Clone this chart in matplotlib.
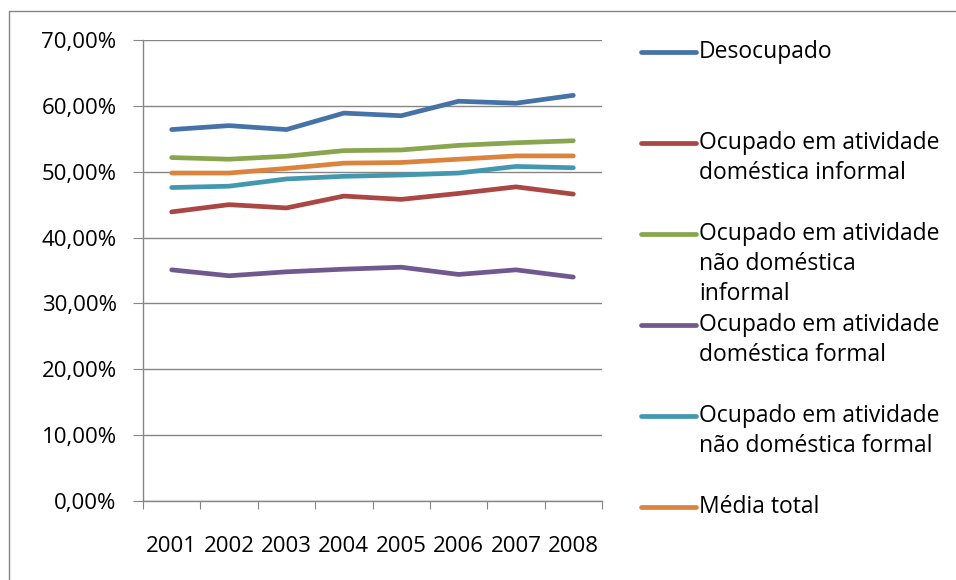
import matplotlib
matplotlib.use("Agg")
import matplotlib.pyplot as plt
from matplotlib.lines import Line2D
from matplotlib.ticker import FuncFormatter, MultipleLocator

plt.rcParams['font.family'] = ['Open Sans', 'DejaVu Sans']

# data (percent)
years = ['2001', '2002', '2003', '2004', '2005', '2006', '2007', '2008']
desocupado = [56.4, 57.0, 56.4, 58.9, 58.5, 60.7, 60.4, 61.6]
dom_informal = [43.9, 45.0, 44.5, 46.3, 45.8, 46.7, 47.7, 46.6]
nao_dom_informal = [52.15, 51.9, 52.35, 53.2, 53.3, 54.0, 54.4, 54.7]
dom_formal = [35.1, 34.2, 34.8, 35.2, 35.5, 34.4, 35.1, 34.0]
nao_dom_formal = [47.6, 47.8, 48.9, 49.3, 49.5, 49.8, 50.8, 50.6]
media_total = [49.8, 49.8, 50.5, 51.3, 51.4, 51.9, 52.4, 52.4]

series = [
    ('Desocupado', desocupado, '#4572A7'),
    ('Ocupado em atividade\ndoméstica informal', dom_informal, '#AA4643'),
    ('Ocupado em atividade\nnão doméstica\ninformal', nao_dom_informal, '#89A54E'),
    ('Ocupado em atividade\ndoméstica formal', dom_formal, '#71588F'),
    ('Ocupado em atividade\nnão doméstica formal', nao_dom_formal, '#4198AF'),
    ('Média total', media_total, '#DB843D'),
]

W, H = 956, 580
fs = 16
fig = plt.figure(figsize=(W / 100, H / 100), dpi=100)
ax = fig.add_axes([143 / W, 1 - 501 / H, 459 / W, 461 / H])

x = range(len(years))
for label, vals, color in series:
    ax.plot(x, vals, color=color, lw=3.4, solid_capstyle='round')

grid_c = '#868686'
ax.set_xlim(-0.5, len(years) - 0.5)
ax.set_ylim(0, 70)
ax.yaxis.set_major_locator(MultipleLocator(10))
ax.yaxis.set_major_formatter(FuncFormatter(lambda v, p: f'{v:.2f}%'.replace('.', ',')))
ax.grid(axis='y', color=grid_c, lw=1)
ax.set_axisbelow(True)
for s in ['top', 'right']:
    ax.spines[s].set_visible(False)
for s in ['left', 'bottom']:
    ax.spines[s].set_color(grid_c)
    ax.spines[s].set_linewidth(1)

# category labels centred, tick marks between categories
ax.set_xticks([i - 0.5 for i in range(len(years) + 1)])
ax.set_xticklabels([])
ax.set_xticks(list(x), minor=True)
ax.set_xticklabels(years, minor=True)
ax.tick_params(axis='x', which='major', length=6, color=grid_c, direction='out')
ax.tick_params(axis='x', which='minor', length=0, pad=25, labelsize=fs)
ax.tick_params(axis='y', length=7, color=grid_c, direction='out', pad=12, labelsize=fs)

# legend drawn by hand to keep the fixed spacing of the original
leg_y = [52, 143, 234, 325, 416, 507]
for (label, vals, color), yy in zip(series, leg_y):
    yf = 1 - yy / H
    fig.add_artist(Line2D([641 / W, 696 / W], [yf, yf], color=color, lw=3.4,
                          solid_capstyle='round'))
    fig.text(699 / W, yf + 12 / H, label, fontsize=fs + 0.5, va='top', ha='left',
             linespacing=1.32)

# outer chart frame (runs off the right and bottom edges)
fig.add_artist(Line2D([8.5 / W, 8.5 / W, 1.0], [0, 1 - 11 / H, 1 - 11 / H],
                      color=grid_c, lw=1))

fig.savefig('out.png', dpi=100)
